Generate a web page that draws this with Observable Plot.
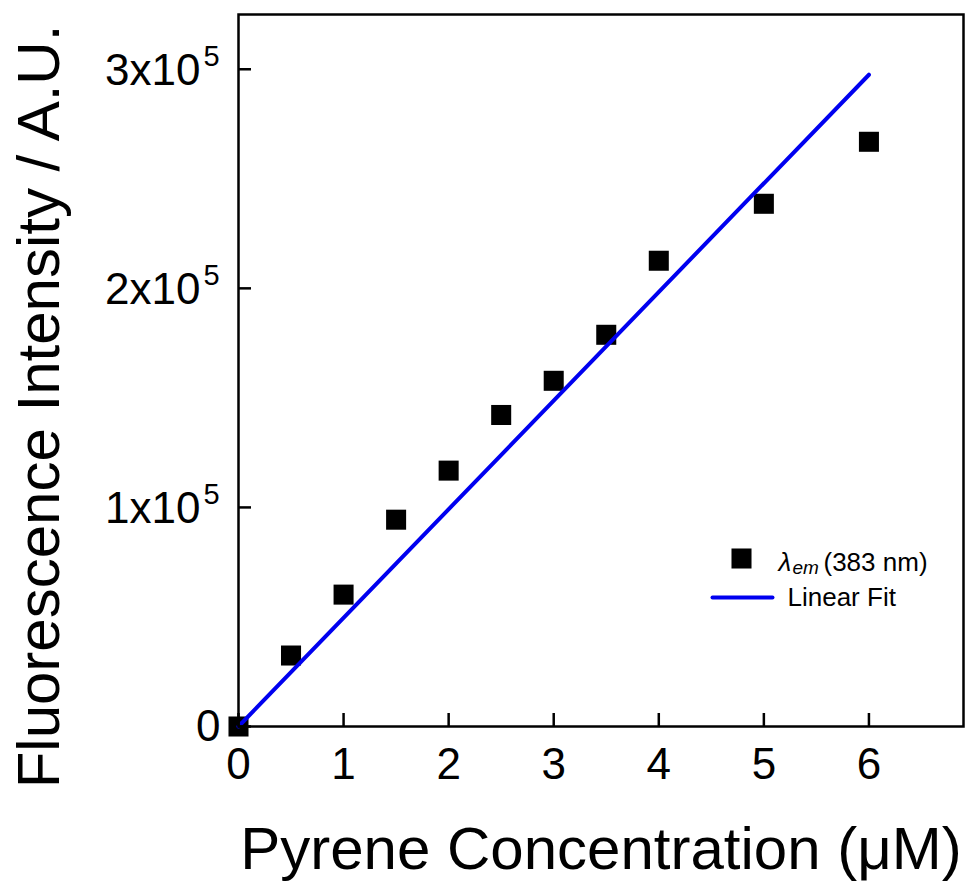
<!DOCTYPE html>
<html>
<head>
<meta charset="utf-8">
<script src="https://cdn.jsdelivr.net/npm/d3@7"></script>
<script src="https://cdn.jsdelivr.net/npm/@observablehq/plot@0.6"></script>
<style>
  html, body { margin: 0; padding: 0; background: #fff; }
  #chart svg { display: block; overflow: visible; }
</style>
</head>
<body>
<div id="chart"></div>
<script>
// ---- data ----
const concentration = [0, 0.5, 1, 1.5, 2, 2.5, 3, 3.5, 4, 5, 6];
const intensity = [0, 32400, 60200, 94400, 116800, 142200, 157800, 178800, 212600, 238600, 266900];
const fitX = [0, 6];
const fitY = [0, 297500];
const xTicks = [0, 1, 2, 3, 4, 5, 6];
const xTickLabels = ["0", "1", "2", "3", "4", "5", "6"];
const yTicks = [0, 100000, 200000, 300000];
const yTickBase = ["0", "1x10", "2x10", "3x10"];
const yTickExp = ["", "5", "5", "5"];
const xTitle = "Pyrene Concentration (\u03BCM)";
const yTitle = "Fluorescence Intensity / A.U.";
const legendSymbolLabel = ["\u03BB", "em", "(383 nm)"];
const legendLineLabel = "Linear Fit";

// ---- build tables ----
const points = concentration.map((c, i) => ({x: c, y: intensity[i]}));
const fit = fitX.map((c, i) => ({x: c, y: fitY[i]}));
const xTickData = xTicks.map((v, i) => ({v, label: xTickLabels[i]}));
const yTickData = yTicks.map((v, i) => ({v, base: yTickBase[i], exp: yTickExp[i]}));

const W = 967, H = 884;
const mL = 238, mR = 4, mT = 14, mB = 158;
const innerW = W - mL - mR, innerH = H - mT - mB;
const tickLen = 13;
const font = "'Liberation Sans', Arial, Helvetica, sans-serif";

const lineSymbol = {draw(ctx) { ctx.moveTo(-30, 0); ctx.lineTo(30, 0); }};

const chart = Plot.plot({
  width: W,
  height: H,
  marginLeft: mL,
  marginRight: mR,
  marginTop: mT,
  marginBottom: mB,
  style: {fontFamily: font, background: "#fff", color: "#000", overflow: "visible"},
  x: {domain: [0, 6.9], axis: null},
  y: {domain: [0, 325000], axis: null},
  marks: [
    // data points
    Plot.dot(points, {x: "x", y: "y", symbol: "square", r: 11.3, fill: "#000", stroke: "none"}),
    // linear fit
    Plot.line(fit, {x: "x", y: "y", stroke: "#0000f0", strokeWidth: 4, strokeLinecap: "round"}),
    // frame
    Plot.frame({stroke: "#000", strokeWidth: 2.5}),
    // inward ticks
    Plot.ruleX(xTickData, {x: "v", insetTop: innerH - tickLen, stroke: "#000", strokeWidth: 2.5}),
    Plot.ruleY(yTickData, {y: "v", insetRight: innerW - tickLen, stroke: "#000", strokeWidth: 2.5}),
    // x tick labels
    Plot.text(xTickData, {x: "v", text: "label", frameAnchor: "bottom", dy: 52, textAnchor: "middle", lineAnchor: "bottom", fontSize: 44, fill: "#000"}),
    // y tick labels
    Plot.text(yTickData.filter(d => d.exp === ""), {y: "v", text: "base", frameAnchor: "left", dx: -18, dy: 14, textAnchor: "end", lineAnchor: "bottom", fontSize: 44, fill: "#000"}),
    Plot.text(yTickData.filter(d => d.exp !== ""), {y: "v", text: "base", frameAnchor: "left", dx: -38, dy: 16, textAnchor: "end", lineAnchor: "bottom", fontSize: 44, fill: "#000"}),
    Plot.text(yTickData.filter(d => d.exp !== ""), {y: "v", text: "exp", frameAnchor: "left", dx: -35, dy: -3, textAnchor: "start", lineAnchor: "bottom", fontSize: 29, fill: "#000"}),
    // axis titles
    Plot.text([xTitle], {text: d => d, frameAnchor: "bottom", dy: 142, textAnchor: "middle", lineAnchor: "bottom", fontSize: 60, fill: "#000"}),
    Plot.text([yTitle], {text: d => d, frameAnchor: "left", dx: -180, dy: 36, rotate: -90, textAnchor: "middle", lineAnchor: "bottom", fontSize: 60, fill: "#000"}),
    // legend
    Plot.dot([legendSymbolLabel], {frameAnchor: "bottom-right", dx: -222, dy: -168, symbol: "square", r: 11.3, fill: "#000", stroke: "none"}),
    Plot.text([legendSymbolLabel[0]], {text: d => d, frameAnchor: "bottom-right", dx: -185, dy: -156, textAnchor: "start", lineAnchor: "bottom", fontSize: 26, fontStyle: "italic", fill: "#000"}),
    Plot.text([legendSymbolLabel[1]], {text: d => d, frameAnchor: "bottom-right", dx: -171, dy: -153, textAnchor: "start", lineAnchor: "bottom", fontSize: 19, fontStyle: "italic", fill: "#000"}),
    Plot.text([legendSymbolLabel[2]], {text: d => d, frameAnchor: "bottom-right", dx: -140, dy: -156, textAnchor: "start", lineAnchor: "bottom", fontSize: 26, fill: "#000"}),
    Plot.dot([legendLineLabel], {frameAnchor: "bottom-right", dx: -221, dy: -129, symbol: lineSymbol, r: 5, fill: "none", stroke: "#0000f0", strokeWidth: 4, strokeLinecap: "round"}),
    Plot.text([legendLineLabel], {text: d => d, frameAnchor: "bottom-right", dx: -176, dy: -121, textAnchor: "start", lineAnchor: "bottom", fontSize: 26, fill: "#000"})
  ]
});

document.getElementById("chart").appendChild(chart);
</script>
</body>
</html>
